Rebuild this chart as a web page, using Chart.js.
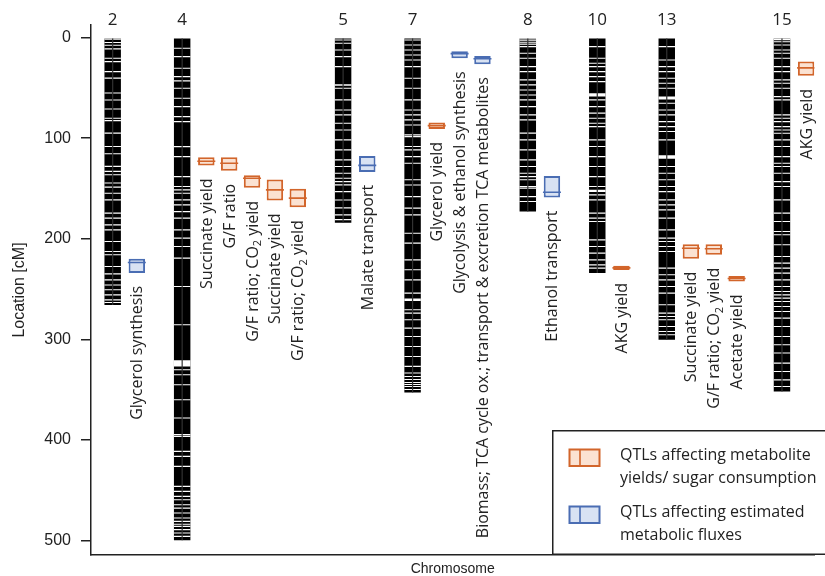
<!DOCTYPE html>
<html>
<head>
<meta charset="utf-8">
<script src="https://cdn.jsdelivr.net/npm/chart.js@4.4.1/dist/chart.umd.min.js"></script>
<style>
  html, body { margin: 0; padding: 0; background: #fff; }
  #wrap { width: 825px; height: 576px; }
</style>
</head>
<body>
<div id="wrap"><canvas id="c" width="825" height="576"></canvas></div>
<script>
// ---- Genetic map: chromosomes (plot order) and their lengths in cM ----
const chromosomes = ['2', '4', '5', '7', '8', '10', '13', '15'];
const chromLength = [266, 500, 184, 353, 173, 234, 300.5, 352];

// Marker-free gaps on each chromosome (cM). A number is a narrow gap, a pair a wider stretch.
const gapsChr2 = [1.5, 4.8, 7.6, 11.2, 20.5, 23.8, 33.8, 40.2, 55.1, 62.0, 70.9, 80.2, 82.5, 95.0, 108.3, 115.4,
  128.0, 133.0, 136.4, 144.6, 148.7, 154.7, 161.3, 174.5, 179.5, 186.2, 191.2, 202.8, 212.7, 216.0, 227.6, 235.0,
  240.9, 246.0, 250.8, 255.8, 260.8, 263.5];
const gapsChr4 = [10.5, 18.9, 30.4, 38.8, 43.0, 50.3, 60.2, 68.6, 78.5, 83.5, 108.4, 118.3, 138.2, 148.1, 151.4,
  154.7, 161.3, 166.3, 173.0, 179.5, 191.2, 199.4, 207.8, 219.3, 247.5, 285.6, [321.0, 327.0], 330.3, 335.3, 345.2,
  360.1, 378.3, 394.9, 396.6, 411.5, 416.5, 426.4, 446.3, 451.3, 456.3, 459.6, 464.6, 468.0, 472.8, 477.8, 481.2,
  484.0, 486.1, 489.4, 492.7, 496.1];
const gapsChr5 = [2.3, 5.6, 12.2, 18.9, 28.8, [46.4, 47.8], 50.3, 61.9, 71.9, 76.8, 85.1, 91.8, 101.7, 111.6, 121.6,
  128.2, 134.8, 139.8, 143.2, 146.4, 153.1, 161.5, 169.3, 176.3, 181.0];
const gapsChr7 = [2.3, 7.3, 12.2, 17.2, 22.2, 28.8, 40.4, 50.3, 61.9, 71.9, 76.8, 81.8, 86.8, 96.7, 98.4, 108.3,
  111.6, 118.3, 124.9, 141.4, 146.5, 158.1, 169.6, 176.3, 194.5, 204.4, 221.0, 230.9, 240.9, 254.1, [259.5, 262.0],
  270.7, 274.0, 280.6, 288.9, 297.2, 307.2, 317.1, 327.0, 333.6, 337.0, 340.0, 343.0, 345.0, 347.0, 350.0];
const gapsChr8 = [1.3, 3.0, 5.0, 6.6, 8.9, 15.5, 20.5, 28.8, 33.8, 42.0, 47.0, 52.0, 57.0, 61.9, 68.6, 76.8, 81.8,
  95.0, 101.7, 111.6, 121.6, 128.2, 134.8, 138.2, 141.4, 148.1, 149.7, 158.1, 163.0];
const gapsChr10 = [8.9, 20.5, 25.4, 28.8, 33.8, 38.8, 43.7, [55.3, 58.6], 61.9, 68.6, 75.1, 80.1, 85.1, 88.5, 101.7,
  108.3, 118.3, 128.2, 138.2, 148.1, [151.4, 153.4], 156.4, 161.3, 174.5, 179.5, 182.9, 201.1, 207.8, 214.3, 221.0,
  226.0, 229.2];
const gapsChr13 = [8.9, 22.2, 28.8, 33.8, 40.4, 45.3, 50.3, [58.6, 61.4], 65.2, 71.9, 76.8, 83.5, 88.5, 93.4, 101.7,
  [117.0, 120.5], 128.2, 134.8, 141.4, 148.1, 153.1, 161.3, 166.3, 171.3, 179.5, 191.2, 199.4, 202.8, 207.8, 212.7,
  229.2, 235.9, 240.9, 247.5, 254.1, 265.7, 274.0, 277.3, 280.6, 287.3, 292.3, 295.5];
const gapsChr15 = [[0.8, 2.6], 4.0, 7.3, 12.2, 15.5, 20.5, 28.8, 33.8, 42.0, 45.3, 50.3, 58.6, 61.9, 76.8, 80.1, 83.5,
  88.5, 91.8, 95.1, 101.7, 108.3, 118.3, 124.9, 128.2, 134.8, 143.2, 148.1, 161.3, 174.5, 182.9, 192.8, 196.1, 206.0,
  217.7, 224.3, 229.2, 234.2, 240.9, 247.5, 252.5, 255.8, 259.1, 262.5, 267.4, 272.4, 279.0, 287.3, 297.2, 305.4,
  313.7, 323.7, 332.0, 340.4, 347.0];
const markerGaps = [gapsChr2, gapsChr4, gapsChr5, gapsChr7, gapsChr8, gapsChr10, gapsChr13, gapsChr15];

// ---- QTLs: chromosome, trait, class, confidence interval (cM) and peak (cM) ----
const qtlChrom = ['2', '4', '4', '4', '4', '4', '5', '7', '7', '7', '8', '10', '13', '13', '13', '15'];
const qtlTrait = ['Glycerol synthesis', 'Succinate yield', 'G/F ratio', 'G/F ratio; CO2 yield', 'Succinate yield',
  'G/F ratio; CO2 yield', 'Malate transport', 'Glycerol yield', 'Glycolysis & ethanol synthesis',
  'Biomass; TCA cycle ox.; transport & excretion TCA metabolites', 'Ethanol transport', 'AKG yield',
  'Succinate yield', 'G/F ratio; CO2 yield', 'Acetate yield', 'AKG yield'];
const qtlClass = ['flux', 'yield', 'yield', 'yield', 'yield', 'yield', 'flux', 'yield', 'flux', 'flux', 'flux',
  'yield', 'yield', 'yield', 'yield', 'yield'];
const qtlFrom = [220, 118.9, 118.9, 136.8, 141, 150.4, 117.6, 84.5, 13.5, 18.2, 137.5, 227, 205.4, 205.4, 237, 23.8];
const qtlTo   = [234, 127.2, 132.5, 149.4, 162, 168.6, 133.5, 90.8, 20.5, 26.4, 159, 231, 220, 216, 242.5, 38];
const qtlPeak = [223.7, 123, 124.9, 139.8, 151.4, 159.6, 127, 87.5, 15.9, 21, 153.7, 229, 209.4, 210, 239.5, 30];

const yTicks = [0, 100, 200, 300, 400, 500];

// ---- Styling ----
const INK = '#222';
const AXIS = '#222';
const STYLE = {
  yield: { stroke: '#d2652b', fill: '#fbe2d2' },
  flux:  { stroke: '#4a6db3', fill: '#d8e2f3' }
};
const LABEL_FONT = '"Open Sans", "Noto Sans", sans-serif';

// ---- Horizontal layout: each chromosome followed by one lane per QTL ----
const LEAD = 24.5, PITCH = 23.2, GAP = 46;
const X_MIN = -22, X_MAX = 712;
const chromX = [];
const qtlX = [];
let cursor = 0;
chromosomes.forEach(c => {
  chromX.push(cursor);
  let k = 0;
  qtlChrom.forEach((q, i) => { if (q === c) { qtlX[i] = cursor + LEAD + k * PITCH; k++; } });
  cursor += LEAD + Math.max(k - 1, 0) * PITCH + GAP;
});

// ---- Datasets ----
const bodyData = chromosomes.map((c, i) => ({ x: chromX[i], y: [0, chromLength[i]] }));
const gapData = [];
markerGaps.forEach((list, i) => {
  list.forEach(g => {
    const span = Array.isArray(g) ? g : [g - 0.55, g + 0.55];
    gapData.push({ x: chromX[i], y: span });
  });
});
const boxData = cls => qtlTrait.map((t, i) => i).filter(i => qtlClass[i] === cls)
  .map(i => ({ x: qtlX[i], y: [qtlFrom[i], qtlTo[i]] }));
const peakData = cls => qtlTrait.map((t, i) => i).filter(i => qtlClass[i] === cls)
  .map(i => ({ x: qtlX[i], y: qtlPeak[i] }));

const barBase = { type: 'bar', grouped: false, inflateAmount: 0, borderSkipped: false };

const datasets = [
  Object.assign({}, barBase, { label: 'chromosome', data: bodyData, backgroundColor: '#000',
    maxBarThickness: 20, borderWidth: 0, order: 10 }),
  Object.assign({}, barBase, { label: 'gaps', data: gapData, backgroundColor: '#fff',
    maxBarThickness: 20, borderWidth: 0, order: 9 }),
  Object.assign({}, barBase, { label: 'axis', data: bodyData, backgroundColor: '#333',
    maxBarThickness: 1.2, borderWidth: 0, order: 8 }),
  Object.assign({}, barBase, { label: 'yield QTL', data: boxData('yield'), backgroundColor: STYLE.yield.fill,
    borderColor: STYLE.yield.stroke, borderWidth: 2, maxBarThickness: 18, order: 5 }),
  Object.assign({}, barBase, { label: 'flux QTL', data: boxData('flux'), backgroundColor: STYLE.flux.fill,
    borderColor: STYLE.flux.stroke, borderWidth: 2, maxBarThickness: 18, order: 5 }),
  { type: 'line', label: 'yield peak', data: peakData('yield'), showLine: false, pointStyle: 'line',
    pointRadius: 9, pointHoverRadius: 9, pointBorderWidth: 1.6, pointBorderColor: STYLE.yield.stroke,
    pointBackgroundColor: STYLE.yield.stroke, order: 1 },
  { type: 'line', label: 'flux peak', data: peakData('flux'), showLine: false, pointStyle: 'line',
    pointRadius: 9, pointHoverRadius: 9, pointBorderWidth: 1.6, pointBorderColor: STYLE.flux.stroke,
    pointBackgroundColor: STYLE.flux.stroke, order: 1 }
];

// Draw text with "CO2" rendered as CO with a subscript 2
function drawTrait(ctx, text, baseline) {
  const parts = [];
  text.split('CO2').forEach((p, i, arr) => {
    if (p) parts.push({ t: p, sub: false });
    if (i < arr.length - 1) { parts.push({ t: 'CO', sub: false }); parts.push({ t: '2', sub: true }); }
  });
  const main = '16px ' + LABEL_FONT, small = '11px ' + LABEL_FONT;
  let total = 0;
  parts.forEach(p => { ctx.font = p.sub ? small : main; p.w = ctx.measureText(p.t).width; total += p.w; });
  let x = -total;
  ctx.textAlign = 'left';
  ctx.textBaseline = 'alphabetic';
  parts.forEach(p => {
    ctx.font = p.sub ? small : main;
    ctx.fillText(p.t, x, p.sub ? baseline + 3.5 : baseline);
    x += p.w;
  });
}

const annotations = {
  id: 'annotations',
  afterDatasetsDraw(chart) {
    const { ctx } = chart;
    const xs = chart.scales.x, ys = chart.scales.y;
    ctx.save();
    ctx.fillStyle = INK;
    qtlTrait.forEach((t, i) => {
      const px = xs.getPixelForValue(qtlX[i]);
      const py = ys.getPixelForValue(qtlTo[i]) + 13;
      ctx.save();
      ctx.translate(px, py);
      ctx.rotate(-Math.PI / 2);
      drawTrait(ctx, t, 5.5);
      ctx.restore();
    });
    ctx.restore();

    // Legend box
    ctx.save();
    ctx.fillStyle = '#fff';
    ctx.fillRect(553, 431, 280, 123);
    ctx.strokeStyle = INK;
    ctx.lineWidth = 1.5;
    ctx.strokeRect(552.75, 430.75, 300, 123.5);
    const entries = [
      { cls: 'yield', y: 449.5, lines: ['QTLs affecting metabolite', 'yields/ sugar consumption'], ty: 455 },
      { cls: 'flux', y: 506.5, lines: ['QTLs affecting estimated', 'metabolic fluxes'], ty: 512 }
    ];
    entries.forEach(e => {
      const s = STYLE[e.cls];
      ctx.fillStyle = s.fill;
      ctx.fillRect(569.5, e.y, 30, 16.5);
      ctx.strokeStyle = s.stroke;
      ctx.lineWidth = 2;
      ctx.strokeRect(569.5, e.y, 30, 16.5);
      ctx.beginPath();
      ctx.moveTo(580, e.y);
      ctx.lineTo(580, e.y + 16.5);
      ctx.lineWidth = 1.6;
      ctx.stroke();
      ctx.fillStyle = INK;
      ctx.font = '16px ' + LABEL_FONT;
      ctx.textAlign = 'left';
      ctx.textBaseline = 'middle';
      e.lines.forEach((l, k) => ctx.fillText(l, 620, e.ty + k * 23));
    });
    ctx.restore();
  }
};

// Horizontal axes keep the full plot width (no extra room for edge labels)
const noSidePadding = s => { s.paddingLeft = 0; s.paddingRight = 0; };

function build() {
  new Chart(document.getElementById('c'), {
    type: 'bar',
    data: { datasets },
    plugins: [annotations],
    options: {
      responsive: false,
      animation: false,
      devicePixelRatio: 1,
      events: [],
      layout: { padding: 0 },
      plugins: { legend: { display: false }, tooltip: { enabled: false } },
      scales: {
        x: {
          type: 'linear', position: 'bottom', min: X_MIN, max: X_MAX, offset: false,
          afterBuildTicks: s => { s.ticks = [{ value: X_MIN }, { value: X_MAX }]; },
          ticks: { display: false },
          grid: { display: false, drawTicks: false, offset: false },
          border: { display: true, color: AXIS, width: 1.5 },
          title: { display: true, text: 'Chromosome', color: INK,
            font: { family: 'Liberation Sans, Arial, sans-serif', size: 14, lineHeight: 1 },
            padding: { top: 0, bottom: 0 } },
          afterFit: s => { s.height = 21; noSidePadding(s); }
        },
        top: {
          type: 'linear', position: 'top', min: X_MIN, max: X_MAX, offset: false,
          afterBuildTicks: s => { s.ticks = chromX.map(v => ({ value: v })); },
          ticks: { autoSkip: false, maxRotation: 0, padding: -4, color: INK,
            font: { family: '"Open Sans", sans-serif', size: 17, lineHeight: 1 },
            callback: (v, i) => chromosomes[i] },
          grid: { display: false, drawTicks: false, offset: false },
          border: { display: false },
          afterFit: s => { s.height = 25; noSidePadding(s); }
        },
        y: {
          type: 'linear', position: 'left', reverse: true, min: -12.6, max: 514.6,
          afterBuildTicks: s => { s.ticks = yTicks.map(v => ({ value: v })); },
          ticks: { padding: 10, color: INK, font: { family: 'Liberation Sans, Arial, sans-serif', size: 16 },
            callback: v => String(v) },
          grid: { drawOnChartArea: false, drawTicks: true, tickLength: 10, color: AXIS, lineWidth: 1.5 },
          border: { display: true, color: AXIS, width: 1.5 },
          title: { display: true, text: 'Location [cM]', color: INK,
            font: { family: 'Liberation Sans, Arial, sans-serif', size: 16, lineHeight: 1 },
            padding: { top: 12, bottom: 0 } },
          afterFit: s => { s.width = 91; }
        }
      }
    }
  });
}

if (document.fonts && document.fonts.load) {
  Promise.all([
    document.fonts.load('16px "Open Sans"'),
    document.fonts.load('16px "Liberation Sans"')
  ]).then(build, build);
} else {
  build();
}
</script>
</body>
</html>
